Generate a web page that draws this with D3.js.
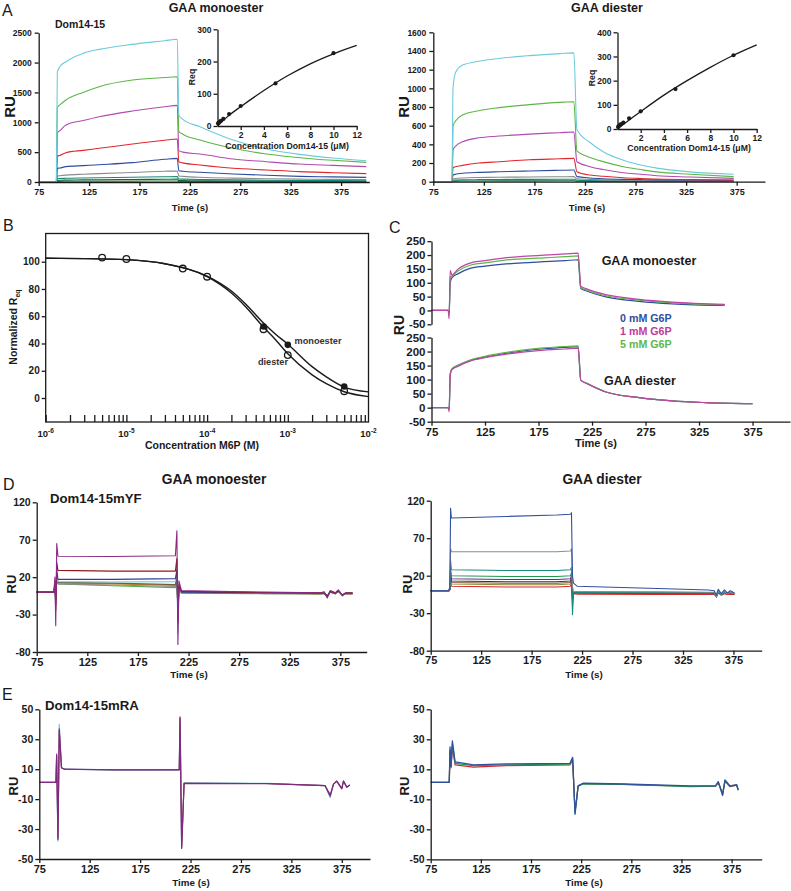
<!DOCTYPE html>
<html><head><meta charset="utf-8">
<script src="https://cdn.jsdelivr.net/npm/d3@7"></script>
<style>
body{margin:0;background:#fff;}
svg{display:block;}
</style></head><body>
<svg id="c" width="791" height="891"></svg>
<script>
// ---------- Panel A (Dom14-15) : GAA monoester ----------
const aMonoTime    = [75, 92.5, 93.5, 96, 102, 119, 135, 168, 200, 212.5, 214, 218, 235, 268, 301, 334, 367, 400];
const aMonoCyan    = [0, 0, 1840, 1930, 2014, 2154, 2221, 2305, 2366, 2390, 1120, 1050, 926, 703, 552, 463, 402, 357];
const aMonoGreen   = [0, 0, 1250, 1290, 1373, 1500, 1596, 1707, 1750, 1763, 850, 800, 703, 564, 469, 407, 363, 329];
const aMonoMagenta = [0, 0, 826, 860, 954, 1030, 1094, 1189, 1260, 1283, 525, 500, 469, 385, 340, 301, 279, 257];
const aMonoRed     = [0, 0, 435, 445, 491, 530, 564, 636, 700, 720, 340, 320, 285, 229, 201, 173, 156, 140];
const aMonoBlue    = [0, 0, 229, 235, 257, 275, 290, 324, 380, 395, 190, 180, 162, 134, 112, 95, 85, 78];
const aMonoGray    = [0, 0, 100, 105, 115, 130, 140, 160, 180, 185, 100, 95, 80, 65, 55, 48, 44, 40];
const aMonoTeal    = [0, 0, 55, 58, 62, 68, 72, 80, 88, 90, 50, 48, 42, 35, 30, 26, 24, 22];
const aMonoDkGreen = [0, 0, 28, 30, 32, 35, 38, 42, 46, 48, 25, 24, 20, 17, 15, 13, 12, 11];
const aMonoLow     = [0, 0, 10, 11, 12, 13, 14, 15, 17, 18, 9, 8, 7, 6, 5, 5, 4, 4];

// ---------- Panel A : GAA diester ----------
const aDiTime    = [75, 93.5, 94.5, 97, 104, 120, 140, 170, 200, 214, 217, 230, 243, 263, 280, 296, 329, 372];
const aDiCyan    = [0, 0, 1000, 1170, 1250, 1290, 1320, 1350, 1372, 1380, 560, 420, 321, 230, 179, 145, 105, 79];
const aDiGreen   = [0, 0, 596, 650, 714, 760, 793, 825, 850, 857, 330, 260, 215, 160, 130, 105, 80, 54];
const aDiMagenta = [0, 0, 339, 380, 428, 470, 489, 510, 525, 532, 214, 161, 130, 96, 80, 64, 50, 36];
const aDiRed     = [0, 0, 150, 160, 175, 200, 214, 235, 245, 250, 107, 71, 58, 43, 35, 29, 22, 18];
const aDiBlue    = [0, 0, 71, 80, 90, 100, 107, 115, 122, 125, 54, 40, 32, 25, 22, 20, 18, 15];
const aDiGray    = [0, 0, 30, 35, 40, 45, 48, 50, 53, 54, 30, 25, 20, 17, 15, 14, 13, 12];
const aDiTeal    = [0, 0, 15, 17, 20, 22, 24, 25, 26, 27, 15, 12, 10, 9, 8, 7, 6, 5];
const aDiDkGreen = [0, 0, 5, 6, 7, 8, 9, 9, 10, 10, 5, 4, 3, 3, 2, 2, 2, 2];

// ---------- Insets (Req vs concentration) ----------
const insetConc      = [0.05, 0.1, 0.2, 0.3, 0.5, 1, 2, 5, 10];
const insetMonoReq   = [8, 10, 14, 16, 22, 37, 62, 132, 226];
const insetDiReq     = [8, 12, 16, 20, 26, 44, 73, 165, 305];
const insetFitConc   = [0, 1, 2, 4, 6, 8, 10, 12];
const insetMonoFit   = [0, 33, 60, 110, 155, 193, 224, 250];
const insetDiFit     = [0, 37, 72, 140, 200, 255, 305, 348];

// ---------- Panel B (M6P competition) ----------
const bConc    = [5e-6, 1e-5, 5e-5, 1e-4, 5e-4, 1e-3, 5e-3];
const bMono    = [103, 102, 95.5, 90, 52.5, 39, 8.5];
const bDi      = [103, 102, 95, 89, 50.5, 31.5, 5];
const bFitConc = [1e-6, 3e-6, 1e-5, 3e-5, 1e-4, 2e-4, 3e-4, 5e-4, 7e-4, 1e-3, 2e-3, 3e-3, 5e-3, 1e-2];
const bFitMono = [102.5, 102.3, 101.5, 98.5, 89.5, 78.5, 69, 55, 47, 39.5, 23, 15.5, 8, 4.5];
const bFitDi   = [102.5, 102.3, 101.5, 98.5, 89, 77, 67, 52, 43, 32.5, 17, 10.5, 4.6, 1];
const bDecades = [1e-6, 1e-5, 1e-4, 1e-3, 1e-2];
const bExponents = ["-6", "-5", "-4", "-3", "-2"];

// ---------- Panel C (G6P) ----------
const cTime    = [75, 90.5, 91.5, 92.5, 94, 100, 111, 125, 142, 160, 180, 200, 212, 214.5, 220, 238, 269, 300, 349];
const cMonoBlue    = [0, 0, -10, 100, 118, 133, 152, 160, 167, 172, 176, 180, 183, 79, 70, 49, 33, 24, 18];
const cMonoMagenta = [0, 0, -30, 145, 128, 150, 171, 180, 189, 195, 200, 204, 207, 88, 78, 57, 40, 30, 22];
const cMonoGreen   = [0, 0, -5, 120, 124, 143, 163, 172, 181, 186, 190, 194, 197, 83, 74, 53, 37, 27, 20];
const cDiTime  = [75, 90.5, 91.5, 92.5, 94, 100, 111, 125, 142, 160, 180, 200, 212, 214.5, 220, 238, 269, 300, 331, 375];
const cDiBlue      = [0, 0, -5, 120, 137, 150, 168, 180, 192, 202, 210, 215, 217, 98, 87, 56, 36, 24, 18, 14];
const cDiMagenta   = [0, 0, -15, 115, 135, 148, 166, 178, 189, 198, 205, 209, 212, 97, 86, 56, 36, 24, 18, 14];
const cDiGreen     = [0, 0, -5, 120, 138, 152, 170, 183, 195, 205, 213, 218, 220, 98, 87, 56, 36, 24, 18, 14];
const cLegend = ["0 mM G6P", "1 mM G6P", "5 mM G6P"];

// ---------- Panel D (Dom14-15mYF) ----------
const dMonoTime    = [75, 92, 93, 93.8, 94.8, 96, 150, 212, 213.5, 214.5, 215.5, 218, 300, 355, 359, 362, 365, 370, 373, 377, 380, 387];
const dMonoPurple  = [0, 0, 20, -45, 65, 48, 47.5, 48.5, 82, -70, 15, 2, 0, -1, 0, -8, 2, -1, 3, -5, -1, -1];
const dMonoDkRed   = [0, 0, 15, -25, 40, 29, 28, 28, 45, -40, 10, 1, -0.5, -1, 0, -6, 1, -1, 2, -4, -1, -1];
const dMonoBlue    = [0, 0, 12, -18, 30, 17, 17, 18, 30, -35, 8, 0, -1, -1.5, -1, -6, 1, -1.5, 2, -4, -1.5, -1.5];
const dMonoCyan    = [0, 0, 10, -12, 25, 14, 13.5, 14, 25, -55, 6, 0, -1, -1.5, -1, -5, 1, -1.5, 2, -4, -1.5, -1.5];
const dMonoBrown   = [0, 0, 9, -10, 22, 13, 12, 10, 22, -30, 5, -0.5, -1.5, -2, -1.5, -5, 0.5, -2, 1.5, -4, -2, -2];
const dMonoOrange  = [0, 0, 8, -9, 20, 12, 11, 9, 20, -25, 4, -1, -1.5, -2, -1.5, -5, 0.5, -2, 1.5, -4, -2, -2];
const dMonoGray    = [0, 0, 7, -8, 18, 11, 9.5, 7.5, 18, -22, 4, -1, -2, -2, -2, -5, 0, -2, 1, -4, -2, -2];
const dMonoGreen   = [0, 0, 6, -7, 16, 11, 8.5, 6, 16, -20, 3, -1.5, -2, -2.5, -2, -5, 0, -2.5, 1, -4, -2.5, -2.5];

// ---------- Panel D : GAA diester ----------
const dDiTime    = [75, 93, 94, 94.7, 95.5, 150, 200, 213.5, 214.5, 215.5, 216.5, 220, 300, 350, 356, 358, 360, 363, 366, 369, 372, 376];
const dDiBlue    = [0, 0, 5, 110, 97, 99, 101, 102, 104, 20, 10, 6, 3, 1, 0, -6, 2, -4, 1, -3, 0, -3];
const dDiGray    = [0, 0, 4, 56, 52, 52, 52, 53, 56, 5, -1, -1, -1.5, -2, -2, -8, 0, -5, -1, -4, -2, -4];
const dDiTeal    = [0, 0, 4, 40, 28, 27, 27, 28, 31, -32, -2, -2, -2, -2.5, -2.5, -8, -0.5, -5, -1.5, -4, -2.5, -4];
const dDiGreen   = [0, 0, 3, 30, 20, 19, 19, 20, 24, -20, -2, -2, -2.5, -3, -3, -8, -1, -5, -2, -4, -3, -4];
const dDiPurple  = [0, 0, 3, 25, 16, 15, 15, 16, 20, -15, -2.5, -2.5, -3, -3, -3, -8, -1, -5, -2, -4, -3, -4];
const dDiDark    = [0, 0, 2, 20, 13, 12, 12, 13, 17, -12, -2.5, -2.5, -3, -3, -3, -8, -1, -5, -2, -4, -3, -4];
const dDiBrown   = [0, 0, 2, 17, 11, 10, 10, 11, 15, -10, -3, -3, -3, -3.5, -3.5, -8, -1.5, -5, -2.5, -4, -3.5, -4];
const dDiOlive   = [0, 0, 2, 15, 9, 8, 8, 9, 13, -8, -3, -3, -3.5, -3.5, -3.5, -8, -1.5, -5, -2.5, -4, -3.5, -4];
const dDiRed     = [0, 0, 1, 12, 6, 5, 5, 6, 10, -6, -4, -4.5, -5, -5, -5, -8, -3, -6, -4, -5, -5, -5];

// ---------- Panel E (Dom14-15mRA) ----------
const eMonoTime   = [75, 91.5, 92.2, 93.5, 94.8, 97, 100, 150, 212.5, 213.8, 214.6, 216.2, 218.6, 300, 358.5, 363.5, 366.8, 370, 375, 376.7, 380, 383];
const eMonoCyan   = [1.2, 1.2, 19, -38, 40, 11, 10, 9.3, 9.5, 9.5, 44, -42, 0.8, 0.5, -1, -9, 0, 2, -3, 2, -2, -0.5];
const eMonoRed    = [1.2, 1.2, 19, -36, 36, 11, 10, 9.6, 9.6, 9.6, 44, -42, 0.6, 0.4, -1, -7, 0, 2, -3, 2, -2, -0.5];
const eMonoPurple = [1.2, 1.2, 20, -37, 37, 11, 10, 9.5, 9.5, 9.5, 45, -43, 0.5, 0.3, -1, -8, 0, 2, -3, 2, -2, -0.5];
const eDiTime   = [75, 93.5, 94.3, 95.3, 96.6, 99.3, 117.5, 150, 213.9, 216.5, 218.9, 222, 227, 267, 333.5, 359, 361.7, 366, 368.4, 373.3, 380, 381.6];
const eDiRed    = [1.3, 1.3, 22, 11, 25, 13, 11.5, 12.5, 13, 16, -18, -1, 0.5, 0, -1.3, -1.2, 1, -6, 2, -1.5, -0.5, -3.5];
const eDiGreen  = [1.3, 1.3, 23, 12, 27, 14, 12.5, 13, 13.5, 17, -19, -1.2, 0.3, 0, -1.5, -1.2, 1.5, -7.5, 2.5, -1.2, -0.5, -4];
const eDiBlue   = [1.3, 1.3, 25, 12, 29, 15, 13, 13.6, 14, 18, -20, -1, 0.7, 0.2, -1.1, -1, 1.8, -7, 3, -1, -0.3, -3.8];

// ---------- tick values ----------
const aMonoYTicks = [0, 500, 1000, 1500, 2000, 2500];
const aDiYTicks   = [0, 200, 400, 600, 800, 1000, 1200, 1400, 1600];
const timeTicks   = [75, 125, 175, 225, 275, 325, 375];
const insetXTicks = [2, 4, 6, 8, 10, 12];
const insetMonoYTicks = [0, 100, 200, 300];
const insetDiYTicks   = [0, 100, 200, 300, 400];
const bYTicks = [0, 20, 40, 60, 80, 100];
const cYTicks = [-50, 0, 50, 100, 150, 200, 250];
const dYTicks = [-80, -30, 20, 70, 120];
const eYTicks = [-50, -30, -10, 10, 30, 50];

// ================= drawing =================
const svg = d3.select('#c');
const F = '"Liberation Sans", Arial, sans-serif';
const NARROW = '"Liberation Sans Narrow", "Liberation Sans", Arial, sans-serif';
const INK = '#1a1a1a';
const fmt = d => String(d);

function label(x, y, str, o = {}) {
  const t = svg.append('text').attr('x', x).attr('y', y).text(str)
    .attr('font-family', o.family || F).attr('font-size', o.size || 10)
    .attr('font-weight', o.weight || 'bold').attr('fill', o.fill || INK)
    .attr('text-anchor', o.anchor || 'start');
  if (o.rotate) t.attr('transform', `rotate(-90,${x},${y})`);
  return t;
}
function styleAxis(g, size, family) {
  g.selectAll('path,line').attr('stroke', INK).attr('stroke-width', 1.3);
  g.selectAll('text').attr('font-family', family || F).attr('font-weight', 'bold')
    .attr('font-size', size).attr('fill', INK);
}
function axisLeft(y, x0, ticks, size, pad) {
  const g = svg.append('g').attr('transform', `translate(${x0},0)`)
    .call(d3.axisLeft(y).tickValues(ticks).tickSize(4).tickSizeOuter(0).tickPadding(pad ?? 2).tickFormat(fmt));
  styleAxis(g, size);
  return g;
}
function axisBottom(x, y0, ticks, size, pad) {
  const g = svg.append('g').attr('transform', `translate(0,${y0})`)
    .call(d3.axisBottom(x).tickValues(ticks).tickSize(4).tickSizeOuter(0).tickPadding(pad ?? 2).tickFormat(fmt));
  styleAxis(g, size);
  return g;
}
function drawLine(x, y, xs, ys, color, w, curve) {
  svg.append('path').datum(xs.map((t, i) => [t, ys[i]]))
    .attr('fill', 'none').attr('stroke', color).attr('stroke-width', w || 1.1)
    .attr('stroke-linejoin', 'round')
    .attr('d', d3.line().x(d => x(d[0])).y(d => y(d[1])).curve(curve || d3.curveMonotoneX));
}

// ---- Panel letters / titles ----
label(2, 16, 'A', { size: 16, weight: 'normal' });
label(216, 12, 'GAA monoester', { size: 12.5, anchor: 'middle' });
label(607, 12, 'GAA diester', { size: 12.5, anchor: 'middle' });
label(55, 28, 'Dom14-15', { size: 10.5 });

// ---- A left ----
{
  const x = d3.scaleLinear().domain([75, 403]).range([38.7, 369.3]);
  const y = d3.scaleLinear().domain([0, 2500]).range([182, 32.7]);
  const series = [[aMonoLow, '#3a7a3a'], [aMonoDkGreen, '#0f6a3c'], [aMonoTeal, '#168a78'], [aMonoGray, '#8c8c8c'],
    [aMonoBlue, '#2d4c9e'], [aMonoRed, '#e3262c'], [aMonoMagenta, '#b04aae'], [aMonoGreen, '#5cb648'], [aMonoCyan, '#6ccbdb']];
  series.forEach(([v, c]) => drawLine(x, y, aMonoTime, v, c, 1.1));
  axisLeft(y, 38.7, aMonoYTicks, 8.5, 3);
  axisBottom(x, 182, timeTicks, 9, 3);
  label(190, 211, 'Time (s)', { size: 9.5, anchor: 'middle', family: NARROW });
  label(15, 107, 'RU', { size: 15, anchor: 'middle', rotate: true });
  // inset
  const ix = d3.scaleLinear().domain([0, 12]).range([217.5, 356.7]);
  const iy = d3.scaleLinear().domain([0, 300]).range([126, 29.3]);
  drawLine(ix, iy, insetFitConc, insetMonoFit, INK, 1.3, d3.curveMonotoneX);
  svg.append('g').selectAll('circle').data(insetConc).join('circle')
    .attr('cx', d => ix(d)).attr('cy', (d, i) => iy(insetMonoReq[i])).attr('r', 2.1).attr('fill', INK);
  axisLeft(iy, 217.5, insetMonoYTicks, 8.5, 2);
  axisBottom(ix, 126, insetXTicks, 8.5, 2);
  label(287, 149, 'Concentration Dom14-15 (\u03bcM)', { size: 8.7, anchor: 'middle' });
  label(195, 77, 'Req', { size: 8.7, anchor: 'middle', rotate: true });
}
// ---- A right ----
{
  const x = d3.scaleLinear().domain([75, 403]).range([433.3, 765]);
  const y = d3.scaleLinear().domain([0, 1600]).range([181.7, 32.3]);
  const series = [[aDiDkGreen, '#0f6a3c'], [aDiTeal, '#168a78'], [aDiGray, '#8c8c8c'], [aDiBlue, '#2d4c9e'],
    [aDiRed, '#e3262c'], [aDiMagenta, '#b04aae'], [aDiGreen, '#5cb648'], [aDiCyan, '#6ccbdb']];
  series.forEach(([v, c]) => drawLine(x, y, aDiTime, v, c, 1.1));
  axisLeft(y, 433.3, aDiYTicks, 8.5, 3);
  axisBottom(x, 181.7, timeTicks, 9, 3);
  label(587, 211, 'Time (s)', { size: 9.5, anchor: 'middle', family: NARROW });
  label(409, 107, 'RU', { size: 15, anchor: 'middle', rotate: true });
  const ix = d3.scaleLinear().domain([0, 12]).range([617.5, 756.7]);
  const iy = d3.scaleLinear().domain([0, 400]).range([129, 32.3]);
  drawLine(ix, iy, insetFitConc, insetDiFit, INK, 1.3, d3.curveMonotoneX);
  svg.append('g').selectAll('circle').data(insetConc).join('circle')
    .attr('cx', d => ix(d)).attr('cy', (d, i) => iy(insetDiReq[i])).attr('r', 2.1).attr('fill', INK);
  axisLeft(iy, 617.5, insetDiYTicks, 8.5, 2);
  axisBottom(ix, 129, insetXTicks, 8.5, 2);
  label(689, 151, 'Concentration Dom14-15 (\u03bcM)', { size: 8.7, anchor: 'middle' });
  label(595, 78, 'Req', { size: 8.7, anchor: 'middle', rotate: true });
}

// ---- Panel B ----
label(3, 231, 'B', { size: 16, weight: 'normal' });
{
  const x = d3.scaleLog().domain([1e-6, 1e-2]).range([45.7, 368.5]);
  const y = d3.scaleLinear().domain([-17.6, 120.7]).range([422, 233.5]);
  svg.append('rect').attr('x', 45.7).attr('y', 233.5).attr('width', 368.5 - 45.7).attr('height', 422 - 233.5)
    .attr('fill', 'none').attr('stroke', INK).attr('stroke-width', 1.3);
  const minor = [];
  bDecades.slice(0, -1).forEach(d => { for (let k = 1; k <= 9; k++) minor.push(d * k); });
  const gx = svg.append('g').attr('transform', 'translate(0,422)')
    .call(d3.axisBottom(x).tickValues(minor).tickSize(-7).tickSizeOuter(0).tickFormat(''));
  styleAxis(gx, 9); gx.select('.domain').remove();
  bDecades.forEach((d, i) => {
    const t = label(x(d), 437, '10', { size: 9.5, anchor: 'middle' });
    t.append('tspan').attr('dy', -4).attr('font-size', 6.5).text(bExponents[i]);
  });
  const gy = axisLeft(y, 45.7, bYTicks, 10, 2);
  gy.select('.domain').remove();
  drawLine(x, y, bFitConc, bFitMono, INK, 1.4, d3.curveMonotoneX);
  drawLine(x, y, bFitConc, bFitDi, INK, 1.4, d3.curveMonotoneX);
  svg.append('g').selectAll('circle').data(bConc.slice(4)).join('circle')
    .attr('cx', d => x(d)).attr('cy', (d, i) => y(bMono[i + 4])).attr('r', 3.3).attr('fill', INK);
  svg.append('g').selectAll('circle').data(bConc).join('circle')
    .attr('cx', d => x(d)).attr('cy', (d, i) => y(bDi[i])).attr('r', 3.3)
    .attr('fill', 'none').attr('stroke', INK).attr('stroke-width', 1.3);
  label(318, 343.5, 'monoester', { size: 9.2, anchor: 'middle', fill: '#333' });
  label(273, 365, 'diester', { size: 9.2, anchor: 'middle', fill: '#333' });
  label(202, 449, 'Concentration M6P (M)', { size: 10.5, anchor: 'middle' });
  const yl = label(17, 327, 'Normalized R', { size: 10.5, anchor: 'middle', rotate: true });
  yl.append('tspan').attr('dy', 2.5).attr('font-size', 7).text('eq');
}

// ---- Panel C ----
label(389, 233, 'C', { size: 16, weight: 'normal' });
{
  const x = d3.scaleLinear().domain([75, 410]).range([431.5, 790]);
  const yT = d3.scaleLinear().domain([-50, 250]).range([324.3, 241.2]);
  const yB = d3.scaleLinear().domain([-50, 250]).range([421.7, 337.5]);
  drawLine(x, yT, cTime, cMonoBlue, '#2d4c9e', 1.2);
  drawLine(x, yT, cTime, cMonoGreen, '#5cb648', 1.2);
  drawLine(x, yT, cTime, cMonoMagenta, '#c044a4', 1.2);
  drawLine(x, yB, cDiTime, cDiBlue, '#2d4c9e', 1.2);
  drawLine(x, yB, cDiTime, cDiGreen, '#5cb648', 1.2);
  drawLine(x, yB, cDiTime, cDiMagenta, '#c044a4', 1.2);
  axisLeft(yT, 431.5, cYTicks, 11.5, 2);
  axisLeft(yB, 431.5, cYTicks, 11.5, 2);
  axisBottom(x, 421.7, timeTicks, 11.5, 2);
  label(596, 447, 'Time (s)', { size: 11, anchor: 'middle' });
  label(404, 325, 'RU', { size: 14, anchor: 'middle', rotate: true });
  label(649, 264.5, 'GAA monoester', { size: 12.5, anchor: 'middle' });
  label(640, 385, 'GAA diester', { size: 12.5, anchor: 'middle' });
  const legColors = ['#2e4ea0', '#c03a9a', '#5cb84a'];
  cLegend.forEach((s, i) => label(620, 322 + i * 13, s, { size: 10.7, fill: legColors[i] }));
}

// ---- Panel D ----
label(3, 490, 'D', { size: 16, weight: 'normal' });
label(214, 484, 'GAA monoester', { size: 13.8, anchor: 'middle' });
label(602, 484, 'GAA diester', { size: 13.8, anchor: 'middle' });
label(50, 503, 'Dom14-15mYF', { size: 13.2 });
{
  const x = d3.scaleLinear().domain([75, 401]).range([36.7, 366.7]);
  const y = d3.scaleLinear().domain([-80, 120]).range([652, 502.3]);
  const series = [[dMonoGreen, '#4caf50'], [dMonoGray, '#8c8c8c'], [dMonoOrange, '#c98a2a'], [dMonoBrown, '#7a5a3a'],
    [dMonoCyan, '#6ccbdb'], [dMonoBlue, '#2d3f9a'], [dMonoDkRed, '#8e1b1b'], [dMonoPurple, '#8a2a86']];
  series.forEach(([v, c]) => drawLine(x, y, dMonoTime, v, c, 1.1, d3.curveLinear));
  axisLeft(y, 36.7, dYTicks, 10.5, 2);
  axisBottom(x, 652, timeTicks, 11, 2);
  label(189, 678, 'Time (s)', { size: 9.8, anchor: 'middle', family: NARROW });
  label(16, 584, 'RU', { size: 13, anchor: 'middle', rotate: true });
}
{
  const x = d3.scaleLinear().domain([75, 403]).range([430.7, 761.7]);
  const y = d3.scaleLinear().domain([-80, 120]).range([650.7, 500.7]);
  const series = [[dDiRed, '#d9262c'], [dDiOlive, '#8a8a3a'], [dDiBrown, '#7a5a3a'], [dDiDark, '#333333'],
    [dDiPurple, '#6a2a8a'], [dDiGreen, '#1e9a50'], [dDiTeal, '#168a80'], [dDiGray, '#8c8c8c'], [dDiBlue, '#3050a0']];
  series.forEach(([v, c]) => drawLine(x, y, dDiTime, v, c, 1.1, d3.curveLinear));
  axisLeft(y, 430.7, dYTicks, 10.5, 2);
  axisBottom(x, 650.7, timeTicks, 11, 2);
  label(584, 678, 'Time (s)', { size: 9.8, anchor: 'middle', family: NARROW });
  label(412, 584, 'RU', { size: 13, anchor: 'middle', rotate: true });
}

// ---- Panel E ----
label(2, 700, 'E', { size: 16, weight: 'normal' });
label(45, 710, 'Dom14-15mRA', { size: 13.2 });
{
  const x = d3.scaleLinear().domain([75, 403]).range([39.3, 370]);
  const y = d3.scaleLinear().domain([-50, 50]).range([859, 709.3]);
  drawLine(x, y, eMonoTime, eMonoCyan, '#6ccbdb', 1.2, d3.curveLinear);
  drawLine(x, y, eMonoTime, eMonoRed, '#b0304a', 1.1, d3.curveLinear);
  drawLine(x, y, eMonoTime, eMonoPurple, '#7e2a80', 1.2, d3.curveLinear);
  axisLeft(y, 39.3, eYTicks, 10.5, 2);
  axisBottom(x, 859, timeTicks, 11, 2);
  label(191, 886, 'Time (s)', { size: 9.8, anchor: 'middle', family: NARROW });
  label(18, 786, 'RU', { size: 13, anchor: 'middle', rotate: true });
}
{
  const x = d3.scaleLinear().domain([75, 405]).range([430.7, 761.7]);
  const y = d3.scaleLinear().domain([-50, 50]).range([859.3, 709.3]);
  drawLine(x, y, eDiTime, eDiRed, '#d9262c', 1.2, d3.curveLinear);
  drawLine(x, y, eDiTime, eDiGreen, '#1e9a50', 1.2, d3.curveLinear);
  drawLine(x, y, eDiTime, eDiBlue, '#3050a0', 1.3, d3.curveLinear);
  axisLeft(y, 430.7, eYTicks, 10.5, 2);
  axisBottom(x, 859.3, timeTicks, 11, 2);
  label(584, 886, 'Time (s)', { size: 9.8, anchor: 'middle', family: NARROW });
  label(409, 786, 'RU', { size: 13, anchor: 'middle', rotate: true });
}
</script>
</body></html>
